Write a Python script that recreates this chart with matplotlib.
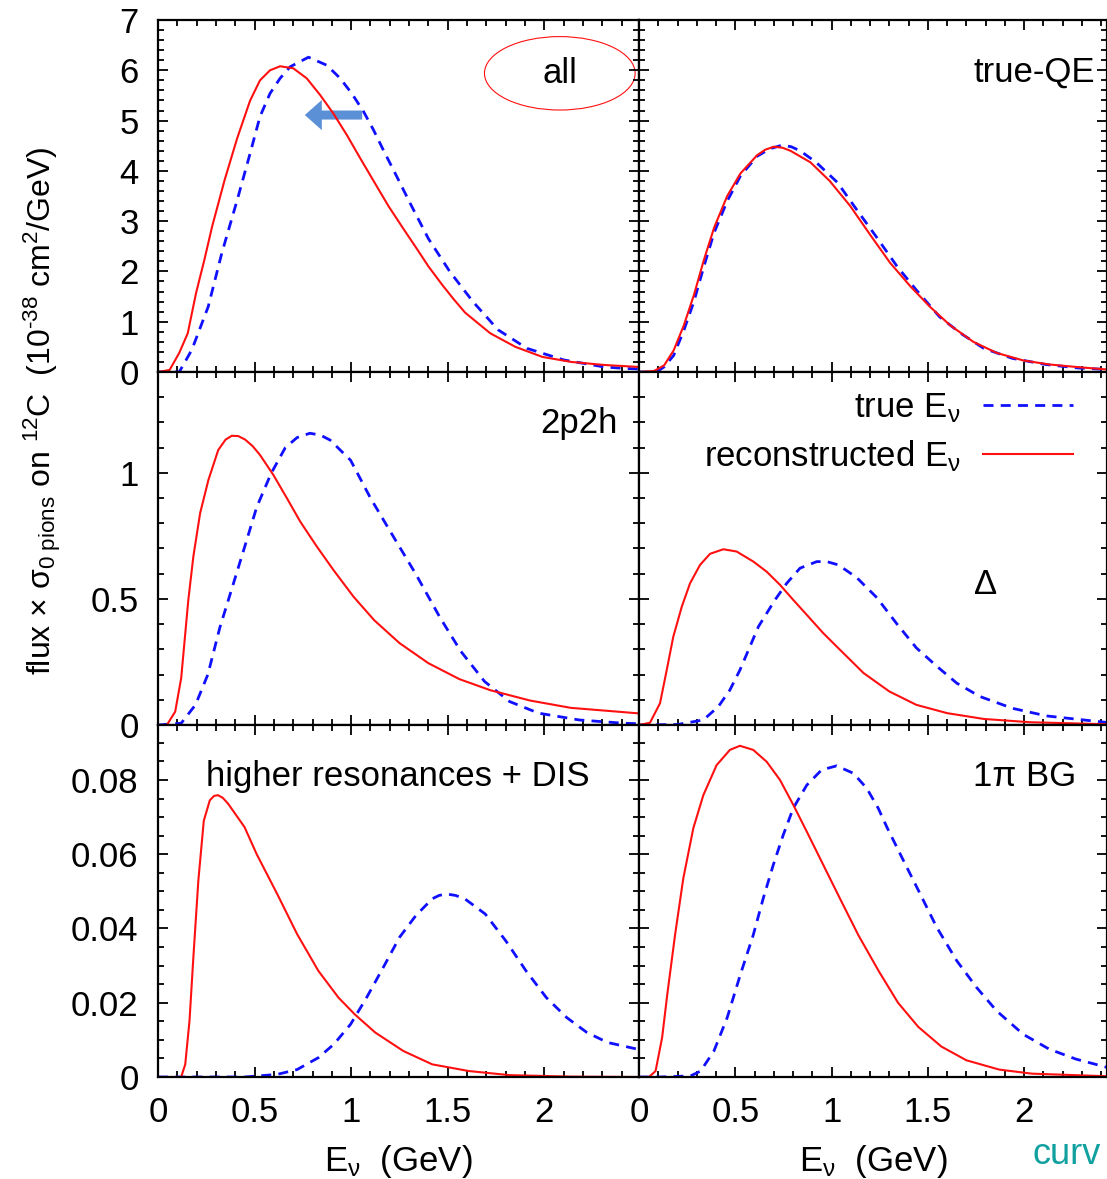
import numpy as np
import matplotlib
matplotlib.use("Agg")
import matplotlib.pyplot as plt
from matplotlib.patches import Ellipse
from matplotlib.ticker import MultipleLocator

plt.rcParams['font.family'] = ['Liberation Sans', 'DejaVu Sans']
plt.rcParams['mathtext.fontset'] = 'custom'
plt.rcParams['mathtext.rm'] = 'Liberation Sans'
plt.rcParams['mathtext.it'] = 'Liberation Sans:italic'
plt.rcParams['mathtext.bf'] = 'Liberation Sans:bold'

# ---------------- data ----------------
# panel "all"
all_rec_x = [0.0, 0.06, 0.11, 0.154, 0.197, 0.24, 0.28, 0.345, 0.41, 0.477, 0.528, 0.58, 0.632, 0.70, 0.77,
             0.839, 0.908, 0.978, 1.047, 1.116, 1.193, 1.27, 1.34, 1.40, 1.47, 1.53, 1.59, 1.72, 1.85,
             1.99, 2.14, 2.31, 2.49]
all_rec_y = [0.0, 0.04, 0.38, 0.77, 1.57, 2.23, 2.89, 3.82, 4.65, 5.40, 5.80, 6.00, 6.08, 6.04, 5.84,
             5.51, 5.14, 4.71, 4.25, 3.80, 3.30, 2.85, 2.45, 2.10, 1.74, 1.45, 1.18, 0.77, 0.50,
             0.30, 0.20, 0.14, 0.10]
all_true_x = [0.0, 0.11, 0.175, 0.26, 0.33, 0.41, 0.477, 0.528, 0.58, 0.632, 0.684, 0.779, 0.874, 0.943,
              1.003, 1.064, 1.116, 1.167, 1.237, 1.306, 1.40, 1.51, 1.63, 1.76, 1.91, 2.10, 2.31, 2.42, 2.49]
all_true_y = [0.0, 0.0, 0.44, 1.30, 2.36, 3.42, 4.35, 5.08, 5.54, 5.84, 6.07, 6.26, 6.10, 5.84,
              5.54, 5.18, 4.81, 4.41, 3.88, 3.35, 2.65, 2.00, 1.40, 0.84, 0.47, 0.24, 0.10, 0.07, 0.06]

# panel "true-QE"
qe_rec_x = [0.0, 0.078, 0.13, 0.18, 0.233, 0.285, 0.337, 0.39, 0.458, 0.527, 0.613, 0.655, 0.70, 0.745,
            0.786, 0.89, 0.99, 1.097, 1.20, 1.304, 1.41, 1.51, 1.615, 1.736, 1.857, 1.995, 2.13, 2.27, 2.43]
qe_rec_y = [0.0, 0.02, 0.13, 0.43, 0.93, 1.53, 2.23, 2.87, 3.50, 3.95, 4.31, 4.42, 4.48, 4.46,
            4.40, 4.17, 3.80, 3.30, 2.73, 2.17, 1.70, 1.30, 0.93, 0.60, 0.38, 0.23, 0.15, 0.10, 0.05]
qe_true_x = [0.0, 0.09, 0.13, 0.18, 0.233, 0.285, 0.337, 0.39, 0.458, 0.527, 0.613, 0.68, 0.742, 0.79,
             0.836, 0.92, 1.03, 1.13, 1.23, 1.34, 1.44, 1.56, 1.67, 1.79, 1.94, 2.11, 2.28, 2.43]
qe_true_y = [0.0, 0.0, 0.10, 0.33, 0.83, 1.40, 2.10, 2.77, 3.40, 3.90, 4.29, 4.44, 4.51, 4.48,
             4.40, 4.17, 3.77, 3.23, 2.70, 2.10, 1.63, 1.10, 0.77, 0.47, 0.27, 0.15, 0.08, 0.05]

# panel "2p2h"
np_rec_x = [0.0, 0.046, 0.089, 0.12, 0.157, 0.183, 0.218, 0.261, 0.312, 0.35, 0.382, 0.415, 0.451, 0.49,
            0.528, 0.597, 0.667, 0.736, 0.822, 0.908, 1.012, 1.12, 1.25, 1.40, 1.56, 1.72, 1.926, 2.137, 2.49]
np_rec_y = [0.0, 0.0, 0.053, 0.186, 0.496, 0.668, 0.84, 0.972, 1.091, 1.132, 1.147, 1.146, 1.132, 1.106,
            1.071, 0.992, 0.90, 0.807, 0.708, 0.615, 0.509, 0.415, 0.325, 0.245, 0.182, 0.138, 0.097,
            0.068, 0.046]
np_true_x = [0.0, 0.12, 0.194, 0.258, 0.32, 0.384, 0.448, 0.511, 0.585, 0.659, 0.72, 0.786, 0.84, 0.891,
             0.997, 1.10, 1.21, 1.335, 1.46, 1.567, 1.69, 1.82, 1.97, 2.18, 2.41, 2.49]
np_true_y = [0.0, 0.007, 0.08, 0.20, 0.386, 0.545, 0.705, 0.864, 0.997, 1.10, 1.14, 1.157, 1.15, 1.13,
             1.05, 0.90, 0.758, 0.598, 0.426, 0.293, 0.173, 0.093, 0.047, 0.02, 0.007, 0.005]

# panel "Delta"
de_rec_x = [0.0, 0.057, 0.109, 0.144, 0.178, 0.222, 0.265, 0.317, 0.369, 0.438, 0.507, 0.594, 0.663, 0.732,
            0.801, 0.871, 0.957, 1.044, 1.166, 1.30, 1.44, 1.60, 1.79, 2.03, 2.43]
de_rec_y = [0.0, 0.009, 0.086, 0.218, 0.35, 0.469, 0.562, 0.635, 0.679, 0.697, 0.688, 0.648, 0.608, 0.556,
            0.496, 0.437, 0.364, 0.298, 0.206, 0.133, 0.08, 0.047, 0.024, 0.011, 0.003]
de_true_x = [0.0, 0.20, 0.334, 0.412, 0.472, 0.524, 0.576, 0.62, 0.663, 0.706, 0.767, 0.836, 0.923, 0.975,
             1.035, 1.13, 1.235, 1.34, 1.44, 1.546, 1.65, 1.77, 1.94, 2.116, 2.43]
de_true_y = [0.0, 0.002, 0.02, 0.073, 0.139, 0.218, 0.311, 0.39, 0.443, 0.496, 0.562, 0.622, 0.648, 0.648,
             0.635, 0.585, 0.505, 0.40, 0.306, 0.233, 0.166, 0.113, 0.066, 0.036, 0.010]

# panel "higher resonances + DIS"
hr_rec_x = [0.0, 0.12, 0.141, 0.163, 0.184, 0.209, 0.237, 0.268, 0.29, 0.31, 0.335, 0.363, 0.448, 0.511,
            0.617, 0.72, 0.83, 0.934, 1.018, 1.124, 1.27, 1.42, 1.61, 1.82, 2.14, 2.49]
hr_rec_y = [0.0, 0.0, 0.0034, 0.0151, 0.033, 0.053, 0.069, 0.0745, 0.0757, 0.0759, 0.0752, 0.0736, 0.0673,
            0.060, 0.0493, 0.0385, 0.0286, 0.0214, 0.0169, 0.012, 0.007, 0.0034, 0.0016, 0.0005, 0.0001, 0.0]
hr_true_x = [0.0, 0.45, 0.617, 0.72, 0.83, 0.91, 0.997, 1.08, 1.166, 1.25, 1.335, 1.42, 1.455, 1.493,
             1.54, 1.588, 1.694, 1.80, 1.905, 2.01, 2.116, 2.22, 2.327, 2.49]
hr_true_y = [0.0, 0.0, 0.0007, 0.002, 0.0052, 0.0088, 0.0142, 0.0214, 0.0295, 0.0376, 0.0435, 0.048,
             0.0489, 0.0493, 0.0489, 0.048, 0.0439, 0.0367, 0.0286, 0.0214, 0.016, 0.012, 0.0093, 0.0074]

# panel "1pi BG"
bg_rec_x = [0.0, 0.052, 0.086, 0.12, 0.147, 0.187, 0.23, 0.282, 0.334, 0.403, 0.472, 0.524, 0.593, 0.663,
            0.732, 0.801, 0.871, 0.957, 1.044, 1.139, 1.245, 1.345, 1.45, 1.57, 1.70, 1.87, 2.04, 2.43]
bg_rec_y = [0.0, 0.0, 0.0016, 0.0106, 0.0223, 0.0382, 0.0535, 0.067, 0.0759, 0.084, 0.0881, 0.0892,
            0.0881, 0.0849, 0.080, 0.0733, 0.0661, 0.0571, 0.0480, 0.0382, 0.0285, 0.0200, 0.0135, 0.0082,
            0.0045, 0.0020, 0.0009, 0.0002]
bg_true_x = [0.0, 0.112, 0.268, 0.32, 0.389, 0.458, 0.527, 0.593, 0.645, 0.697, 0.749, 0.801, 0.871, 0.948,
             1.026, 1.113, 1.182, 1.242, 1.287, 1.373, 1.46, 1.546, 1.65, 1.753, 1.857, 1.995, 2.13, 2.27, 2.43]
bg_true_y = [0.0, 0.0, 0.0003, 0.0016, 0.007, 0.016, 0.0277, 0.0382, 0.0481, 0.0571, 0.0652, 0.0724,
             0.0786, 0.0827, 0.0838, 0.0818, 0.0778, 0.0724, 0.0673, 0.0583, 0.0493, 0.0403, 0.0313,
             0.0241, 0.0178, 0.0115, 0.0075, 0.0048, 0.0026]

panel_labels = ["all", "true-QE", "2p2h", "\u0394", "higher resonances + DIS", "1\u03c0 BG"]
legend_labels = [r"true E$_{\rm \nu}$", r"reconstructed E$_{\rm \nu}$"]
xtick_vals = [0, 0.5, 1, 1.5, 2]
xtick_labels = ["0", "0.5", "1", "1.5", "2"]
ylims = [7.0, 1.40, 0.0948]
yticks = [[0, 1, 2, 3, 4, 5, 6, 7], [0, 0.5, 1], [0, 0.02, 0.04, 0.06, 0.08]]
ytick_labels = [["0", "1", "2", "3", "4", "5", "6", "7"], ["0", "0.5", "1"],
                ["0", "0.02", "0.04", "0.06", "0.08"]]
yminor = [0.2, 0.1, 0.005]
ylabel_text = ("flux \u00d7 \u03c3" + r"$_{\rm 0\ pions}$ on $^{\rm 12}$C  (10$^{\rm "
               + "\u2010" + r"38}$ cm$^{\rm 2}$/GeV)")

# ---------------- figure ----------------
W, H = 1107, 1179
fig = plt.figure(figsize=(W / 100, H / 100), dpi=100)

def px_axes(x0, x1, y0, y1):
    return fig.add_axes([x0 / W, 1 - y1 / H, (x1 - x0) / W, (y1 - y0) / H])

cols = [(158, 639, 2.49), (639, 1107, 2.43)]
rows = [(20, 372), (372, 725), (725, 1077)]

red = "#ff1010"
blue = "#1010ff"
FS = 25

data = [
    [(all_true_x, all_true_y, all_rec_x, all_rec_y), (qe_true_x, qe_true_y, qe_rec_x, qe_rec_y)],
    [(np_true_x, np_true_y, np_rec_x, np_rec_y), (de_true_x, de_true_y, de_rec_x, de_rec_y)],
    [(hr_true_x, hr_true_y, hr_rec_x, hr_rec_y), (bg_true_x, bg_true_y, bg_rec_x, bg_rec_y)],
]

axes = {}
for r, (y0, y1) in enumerate(rows):
    for c, (x0, x1, xmax) in enumerate(cols):
        ax = px_axes(x0, x1, y0, y1)
        axes[(r, c)] = ax
        tx, ty, rx, ry = data[r][c]
        ax.plot(tx, ty, color=blue, lw=2.0, dashes=(3.6, 2.6), label=legend_labels[0])
        ax.plot(rx, ry, color=red, lw=1.5, label=legend_labels[1])
        ax.set_xlim(0, xmax)
        ax.set_ylim(0, ylims[r])
        ax.set_xticks(xtick_vals)
        ax.xaxis.set_minor_locator(MultipleLocator(0.1))
        ax.set_yticks(yticks[r])
        ax.yaxis.set_minor_locator(MultipleLocator(yminor[r]))
        ax.tick_params(which='both', direction='in', top=True, right=True, width=1.3, colors='black')
        ax.tick_params(which='major', length=7)
        ax.tick_params(which='minor', length=4)
        ax.tick_params(axis='both', labelsize=FS, pad=14)
        for s in ax.spines.values():
            s.set_linewidth(1.6)
        if c == 0:
            ax.set_yticklabels(ytick_labels[r])
        else:
            ax.set_yticklabels([])
        if r == 2:
            ax.set_xticklabels(xtick_labels)
            ax.set_xlabel(r"E$_{\rm \nu}$  (GeV)", fontsize=FS, labelpad=10)
        else:
            ax.set_xticklabels([])

# panel labels
a = axes[(0, 0)]
a.text(2.08, 5.94, panel_labels[0], fontsize=FS, ha='center', va='center')
a.add_patch(Ellipse((2.08, 5.94), 0.78, 1.46, fill=False, edgecolor=red, lw=0.8, clip_on=False))
a.arrow(1.057, 5.11, -0.297, 0.0, width=0.18, head_width=0.6, head_length=0.088,
        length_includes_head=True, color="#5b8fd6", lw=0)
axes[(0, 1)].text(2.37, 5.96, panel_labels[1], fontsize=FS, ha='right', va='center')
axes[(1, 0)].text(2.38, 1.195, panel_labels[2], fontsize=FS, ha='right', va='center')
axes[(1, 1)].text(1.80, 0.556, panel_labels[3], fontsize=FS, ha='center', va='center')
axes[(2, 0)].text(1.243, 0.0808, panel_labels[4], fontsize=FS, ha='center', va='center')
axes[(2, 1)].text(2.0, 0.0808, panel_labels[5], fontsize=FS, ha='center', va='center')

# legend in Delta panel
axes[(1, 1)].legend(loc='upper right', bbox_to_anchor=(0.995, 1.035), frameon=False, markerfirst=False,
                    fontsize=FS, handlelength=2.6, handletextpad=0.65, labelspacing=0.4)

# y label
fig.text(42 / W, 1 - 411 / H, ylabel_text, rotation=90, fontsize=23, ha='center', va='center')

# cut-off teal text at bottom right
fig.text(1032 / W, 1 - 1155 / H, "curv", color="#11a0a0", fontsize=FS + 1, ha='left', va='center')

fig.savefig("out.png", dpi=100)
